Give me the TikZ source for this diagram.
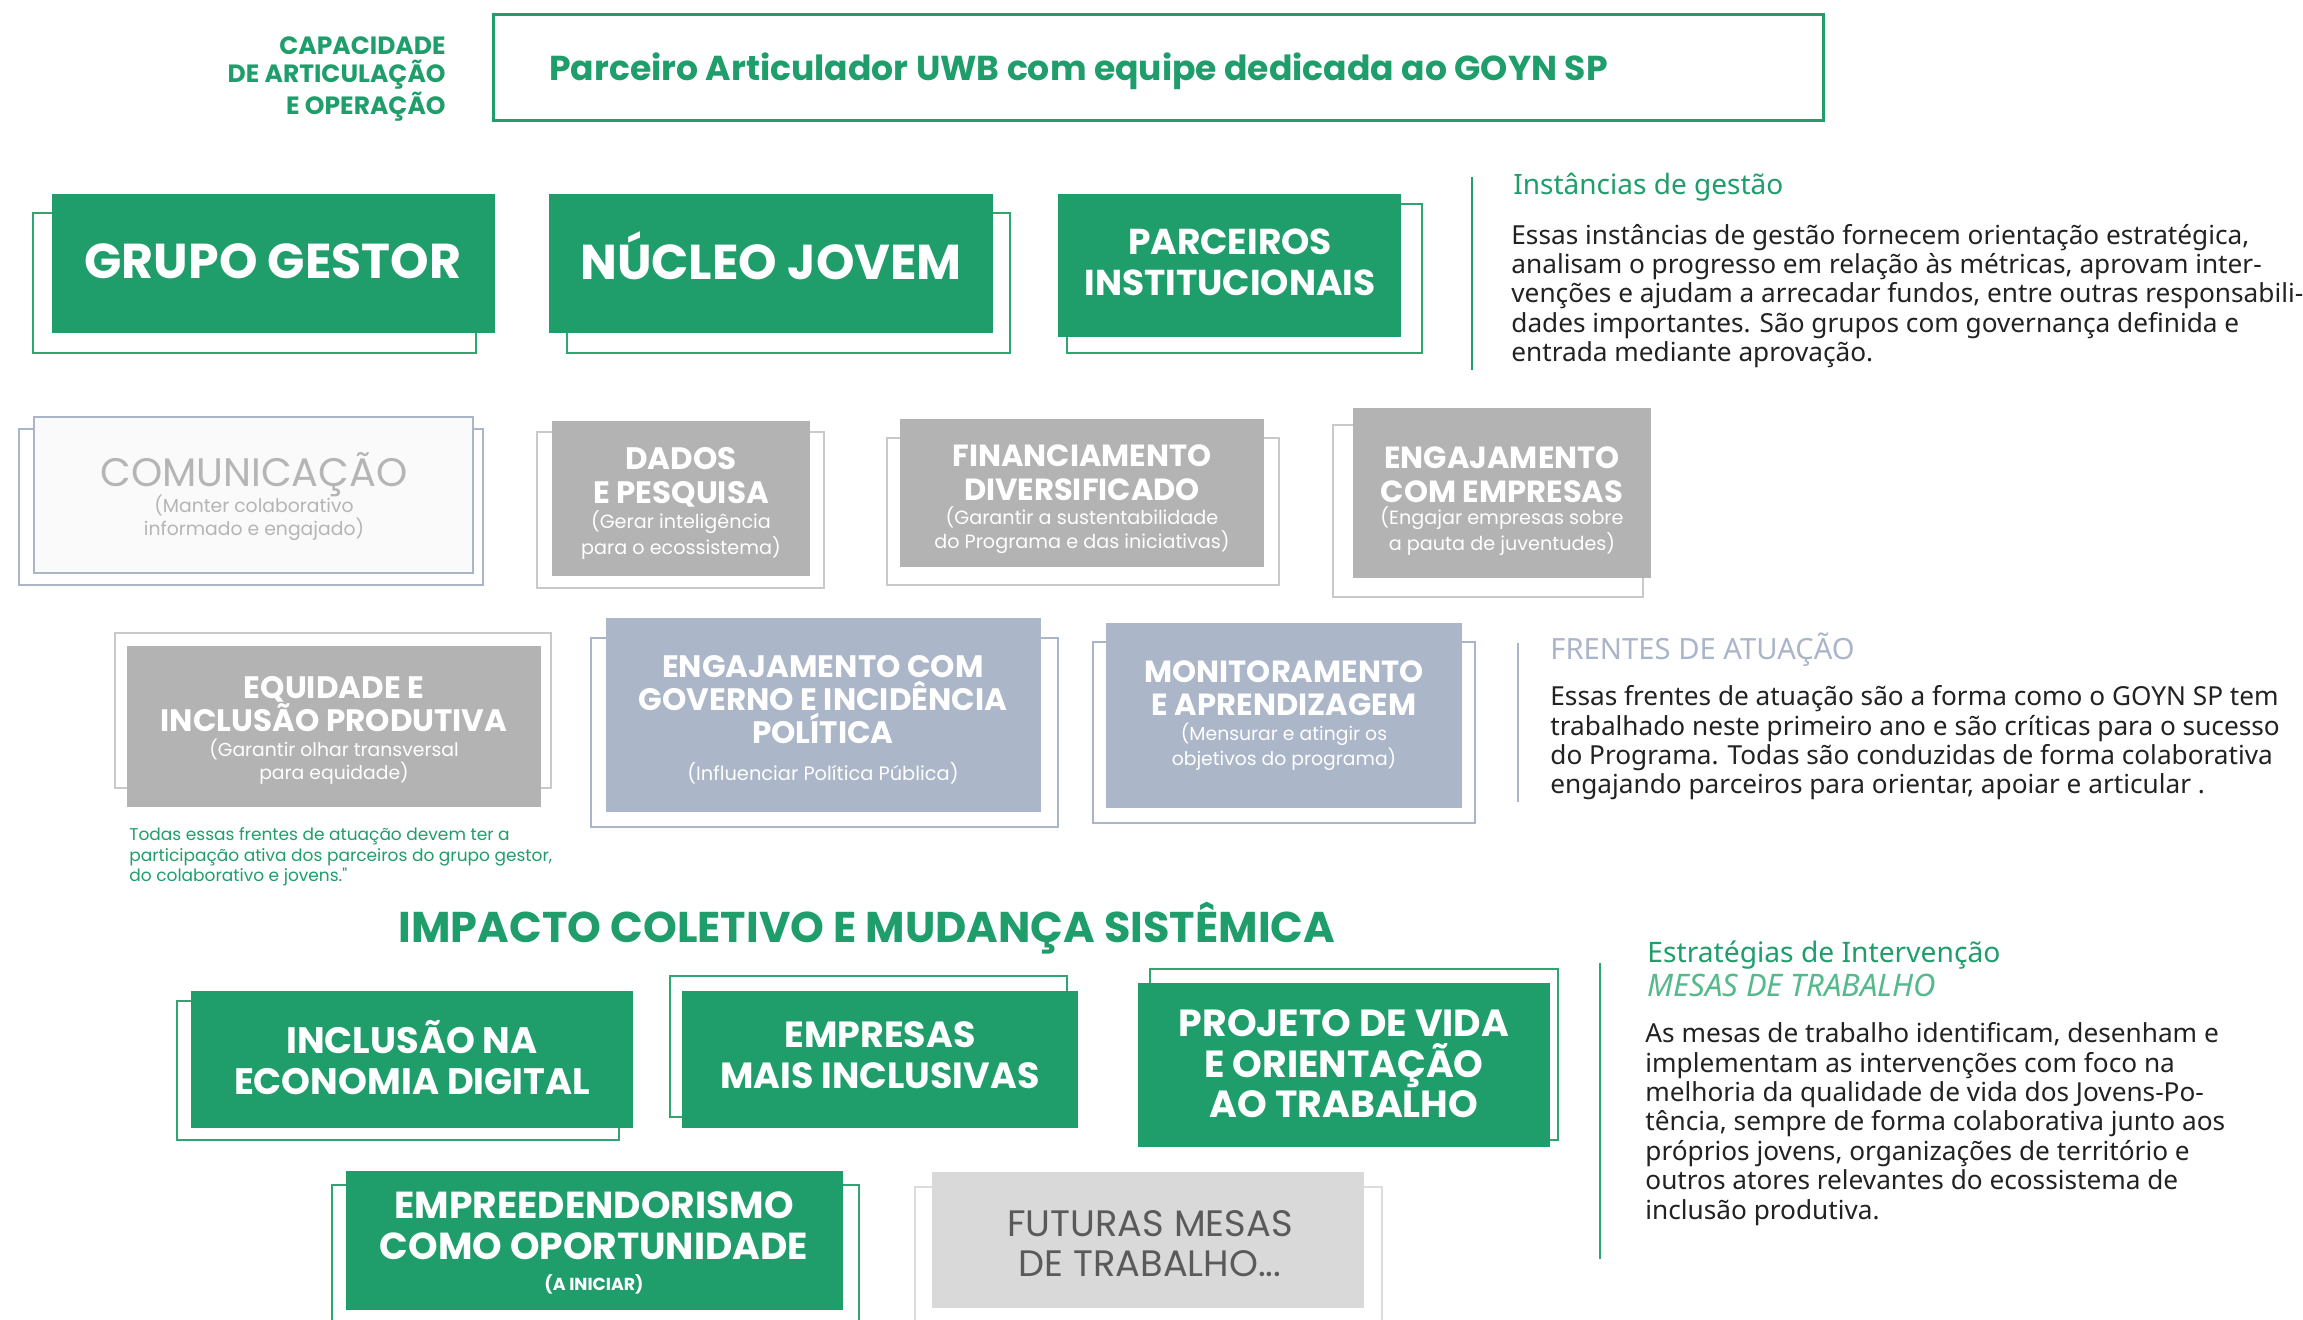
\documentclass[tikz,border=0pt]{standalone}
\usepackage{fontspec}
\setmainfont{Noto Sans}
\newfontfamily\tfont{Poppins}
\definecolor{gG}{HTML}{1F9E6B}
\definecolor{gOut}{HTML}{2FA571}
\definecolor{grF}{HTML}{B3B3B3}
\definecolor{grO}{HTML}{C9C9C9}
\definecolor{blF}{HTML}{ABB6C9}
\definecolor{blO}{HTML}{AAB5C9}
\definecolor{ltF}{HTML}{D9D9D9}
\definecolor{ltO}{HTML}{DCDCDC}
\definecolor{comT}{HTML}{B5B5B5}
\definecolor{futT}{HTML}{5A5A5A}
\definecolor{bodyT}{HTML}{222222}
\definecolor{mesaT}{HTML}{55B98C}
\newcommand\fs[2]{\fontsize{#1}{#2}\selectfont}
\tikzset{
  gback/.style={draw=gOut, line width=1.25pt},
  grback/.style={draw=grO, line width=1.4pt},
  blback/.style={draw=blO, line width=1.4pt},
  ltback/.style={draw=ltO, line width=1.3pt},
  ttl/.style={inner sep=0pt, align=center, text=white, font=\tfont\bfseries},
  sub/.style={inner sep=0pt, align=center, text=white, font=\tfont},
  body/.style={inner sep=0pt, align=left, anchor=west, text=bodyT},
}
\begin{document}
\begin{tikzpicture}[x=0.5pt, y=-0.5pt]
\useasboundingbox[fill=white] (0,0) rectangle (2303,1319);

% top box
\draw[draw=gG, line width=1.5pt] (493,14) rectangle (1823,120);
\node[inner sep=0pt, anchor=west, text=gG, font=\tfont\bfseries\fs{17.3}{20}] (parc) at (549,71) {Parceiro Articulador UWB com equipe dedicada ao GOYN SP};
\node[inner sep=0pt, anchor=east, align=right, text=gG, font=\tfont\bfseries\fs{12.5}{14}] (cap) at (446,79) {CAPACIDADE\\DE ARTICULAÇÃO\\E OPERAÇÃO};

% row 1
\draw[gback] (33,213) rectangle (476,353);
\fill[gG] (52,194) rectangle (495,333);
\node[ttl, font=\tfont\bfseries\fs{24.5}{28}] (gg) at (273,261) {GRUPO GESTOR};
\draw[gback] (567,213) rectangle (1010,353);
\fill[gG] (549,194) rectangle (993,333);
\node[ttl, font=\tfont\bfseries\fs{24.5}{28}] (nj) at (771,256) {NÚCLEO JOVEM};
\draw[gback] (1067,204) rectangle (1422,353);
\fill[gG] (1058,194) rectangle (1401,337);
\node[ttl, font=\tfont\bfseries\fs{18}{20.5}] (pi) at (1230,262) {PARCEIROS\\INSTITUCIONAIS};

% instancias text
\draw[draw=gG, line width=1.3pt] (1472,177) -- (1472,370);
\node[inner sep=0pt, anchor=west, text=gG, font=\fs{14}{16}] (inst) at (1513,187) {Instâncias de gestão};
\node[body, font=\fs{13.1}{14.7}] (instb) at (1511,296) {Essas instâncias de gestão fornecem orientação estratégica,\\analisam o progresso em relação às métricas, aprovam inter-\\venções e ajudam a arrecadar fundos, entre outras responsabili-\\dades importantes. São grupos com governança definida e\\entrada mediante aprovação.};

% row 2
\draw[blback] (19,429) rectangle (483,585);
\draw[draw=blO, line width=1.4pt, fill=white!98!black] (34,417) rectangle (473,573);
\node[inner sep=0pt, text=comT, font=\tfont\fs{19.9}{22}] (com) at (254,475) {COMUNICAÇÃO};
\node[sub, text=comT, font=\tfont\fs{9.4}{8.9}] (coms) at (254,518) {(Manter colaborativo\\informado e engajado)};

\draw[grback] (537,432) rectangle (824,588);
\fill[grF] (552,421) rectangle (810,576);
\node[ttl, font=\tfont\bfseries\fs{15.5}{17}] (dad) at (681,477) {DADOS\\E PESQUISA};
\node[sub, font=\tfont\fs{9.6}{9.2}] (dads) at (681,535) {(Gerar inteligência\\para o ecossistema)};

\draw[grback] (887,438) rectangle (1279,585);
\fill[grF] (900,419) rectangle (1264,567);
\node[ttl, font=\tfont\bfseries\fs{15.3}{17}] (fin) at (1082,473) {FINANCIAMENTO\\DIVERSIFICADO};
\node[sub, font=\tfont\fs{9.6}{9}] (fins) at (1082,530) {(Garantir a sustentabilidade\\do Programa e das iniciativas)};

\draw[grback] (1333,425) rectangle (1643,597);
\fill[grF] (1353,408) rectangle (1651,578);
\node[ttl, font=\tfont\bfseries\fs{15.3}{17}] (eng) at (1502,475) {ENGAJAMENTO\\COM EMPRESAS};
\node[sub, font=\tfont\fs{9.6}{9}] (engs) at (1502,531) {(Engajar empresas sobre\\a pauta de juventudes)};

% row 3
\draw[grback] (115,633) rectangle (551,788);
\fill[grF] (127,646) rectangle (541,807);
\node[ttl, font=\tfont\bfseries\fs{15.5}{16.8}] (eq) at (334,704) {EQUIDADE E\\INCLUSÃO PRODUTIVA};
\node[sub, font=\tfont\fs{9.4}{9.5}] (eqs) at (334,762) {(Garantir olhar transversal\\para equidade)};

\draw[blback] (591,638) rectangle (1058,827);
\fill[blF] (606,618) rectangle (1041,812);
\node[ttl, font=\tfont\bfseries\fs{15.5}{16.5}] (gov) at (823,700) {ENGAJAMENTO COM\\GOVERNO E INCIDÊNCIA\\POLÍTICA};
\node[sub, font=\tfont\fs{9.7}{10}] (govs) at (823,773) {(Influenciar Política Pública)};

\draw[blback] (1093,642) rectangle (1475,823);
\fill[blF] (1106,623) rectangle (1462,808);
\node[ttl, font=\tfont\bfseries\fs{15.3}{16.5}] (mon) at (1284,688) {MONITORAMENTO\\E APRENDIZAGEM};
\node[sub, font=\tfont\fs{9.4}{9.5}] (mons) at (1284,747) {(Mensurar e atingir os\\objetivos do programa)};

\node[inner sep=0pt, anchor=west, align=left, text=gG, font=\tfont\fs{8.5}{10.25}] (note) at (129,857) {Todas essas frentes de atuação devem ter a\\participação ativa dos parceiros do grupo gestor,\\do colaborativo e jovens."};

% frentes text
\draw[draw=blO, line width=1.3pt] (1518,643) -- (1518,802);
\node[inner sep=0pt, anchor=west, text=blO, font=\fs{14.6}{16}] (fre) at (1550,650) {FRENTES DE ATUAÇÃO};
\node[body, font=\fs{13.1}{14.7}] (freb) at (1550,743) {Essas frentes de atuação são a forma como o GOYN SP tem\\trabalhado neste primeiro ano e são críticas para o sucesso\\do Programa. Todas são conduzidas de forma colaborativa\\engajando parceiros para orientar, apoiar e articular .};

% impacto
\node[inner sep=0pt, text=gG, font=\tfont\bfseries\fs{21.5}{24}] (imp) at (867,928) {IMPACTO COLETIVO E MUDANÇA SISTÊMICA};

% row 4
\draw[gback] (177,1001) rectangle (619,1140);
\fill[gG] (191,991) rectangle (633,1128);
\node[ttl, font=\tfont\bfseries\fs{18.4}{20.5}] (inc) at (412,1058) {INCLUSÃO NA\\ECONOMIA DIGITAL};

\draw[gback] (670,976) rectangle (1067,1117);
\fill[gG] (682,991) rectangle (1078,1128);
\node[ttl, font=\tfont\bfseries\fs{18.2}{20.5}] (emp) at (880,1055) {EMPRESAS\\MAIS INCLUSIVAS};

\draw[gback] (1150,969) rectangle (1558,1140);
\fill[gG] (1138,983) rectangle (1550,1147);
\node[ttl, font=\tfont\bfseries\fs{18.9}{20.3}] (pro) at (1344,1064) {PROJETO DE VIDA\\E ORIENTAÇÃO\\AO TRABALHO};

% row 5
\draw[gback] (332,1185) rectangle (859,1335);
\fill[gG] (346,1171) rectangle (843,1310);
\node[ttl, font=\tfont\bfseries\fs{18.8}{20.5}] (empr) at (594,1226) {EMPREEDENDORISMO\\COMO OPORTUNIDADE};
\node[sub, font=\tfont\bfseries\fs{8.7}{9}] (empri) at (594,1284) {(A INICIAR)};

\draw[ltback] (915,1187) rectangle (1382,1335);
\fill[ltF] (932,1172) rectangle (1364,1308);
\node[inner sep=0pt, align=center, text=futT, font=\tfont\fs{18.4}{20}] (fut) at (1150,1244) {FUTURAS MESAS\\DE TRABALHO...};

% estrategias text
\draw[draw=gOut, line width=1.2pt] (1600,963) -- (1600,1259);
\node[inner sep=0pt, anchor=west, text=gG, font=\fs{14.1}{16}] (est) at (1647,955) {Estratégias de Intervenção};
\node[inner sep=0pt, anchor=west, text=mesaT, font=\itshape\fs{15.5}{17}] (mesa) at (1647,985) {MESAS DE TRABALHO};
\node[body, font=\fs{13.1}{14.7}] (estb) at (1645,1124) {As mesas de trabalho identificam, desenham e\\implementam as intervenções com foco na\\melhoria da qualidade de vida dos Jovens-Po-\\tência, sempre de forma colaborativa junto aos\\próprios jovens, organizações de território e\\outros atores relevantes do ecossistema de\\inclusão produtiva.};
\end{tikzpicture}
\end{document}
